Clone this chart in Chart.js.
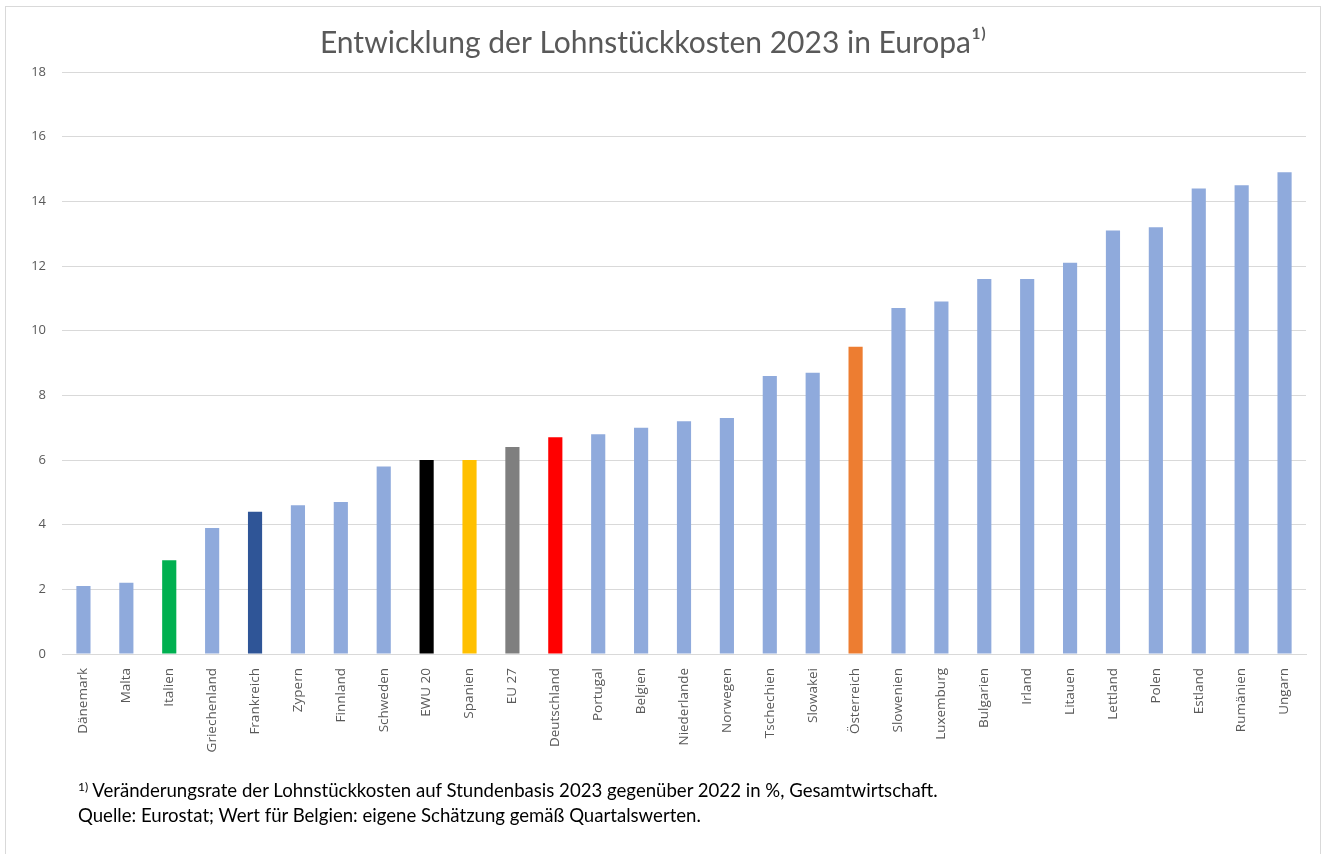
<!DOCTYPE html>
<html lang="de">
<head>
<meta charset="utf-8">
<title>Lohnstückkosten 2023</title>
<script src="https://cdn.jsdelivr.net/npm/chart.js@4"></script>
<style>
    html, body { margin: 0; padding: 0; background: #ffffff; }
    #frame {
        position: absolute; left: 5px; top: 6px; width: 1316px; height: 860px;
        border: 1px solid #d9d9d9; box-sizing: border-box;
    }
    #wrap { position: absolute; left: 0; top: 0; width: 1326px; height: 854px; }
    #note {
        position: absolute; left: 78px; top: 778px;
        font-family: Lato, "Open Sans", sans-serif; font-size: 18.6px; line-height: 25px; color: #000;
    }
    #note sup { font-size: 12px; vertical-align: 6px; line-height: 0; }
</style>
</head>
<body>
<div id="frame"></div>
<div id="wrap"><canvas id="chart"></canvas></div>
<div id="note">
    <div><sup>1)</sup> Veränderungsrate der Lohnstückkosten auf Stundenbasis 2023 gegenüber 2022 in %, Gesamtwirtschaft.</div>
    <div>Quelle: Eurostat; Wert für Belgien: eigene Schätzung gemäß Quartalswerten.</div>
</div>
<script>
// Daten
const countries = ['Dänemark', 'Malta', 'Italien', 'Griechenland', 'Frankreich', 'Zypern', 'Finnland',
    'Schweden', 'EWU 20', 'Spanien', 'EU 27', 'Deutschland', 'Portugal', 'Belgien', 'Niederlande',
    'Norwegen', 'Tschechien', 'Slowakei', 'Österreich', 'Slowenien', 'Luxemburg', 'Bulgarien',
    'Irland', 'Litauen', 'Lettland', 'Polen', 'Estland', 'Rumänien', 'Ungarn'];
const changeRates = [2.1, 2.2, 2.9, 3.9, 4.4, 4.6, 4.7, 5.8, 6.0, 6.0, 6.4, 6.7, 6.8, 7.0, 7.2,
    7.3, 8.6, 8.7, 9.5, 10.7, 10.9, 11.6, 11.6, 12.1, 13.1, 13.2, 14.4, 14.5, 14.9];
const yTicks = [0, 2, 4, 6, 8, 10, 12, 14, 16, 18];

// Farben
const baseColor = '#8faadc';
const highlight = {
    'Italien': '#00b050',
    'Frankreich': '#2f5597',
    'EWU 20': '#000000',
    'Spanien': '#ffc000',
    'EU 27': '#7f7f7f',
    'Deutschland': '#ff0000',
    'Österreich': '#ed7d31'
};
const barColors = countries.map(c => highlight[c] || baseColor);

Chart.defaults.font.family = '"Open Sans", sans-serif';
Chart.defaults.color = '#595959';

new Chart(document.getElementById('chart'), {
    type: 'bar',
    data: {
        labels: countries,
        datasets: [{
            data: changeRates,
            backgroundColor: barColors,
            borderWidth: 0,
            categoryPercentage: 1,
            barPercentage: 0.33
        }]
    },
    options: {
        responsive: true,
        maintainAspectRatio: false,
        animation: false,
        layout: { padding: { top: 25, right: 20, left: 0, bottom: 0 } },
        plugins: {
            legend: { display: false },
            tooltip: { enabled: false },
            title: {
                display: true,
                text: 'Entwicklung der Lohnstückkosten 2023 in Europa¹⁾',
                color: '#595959',
                font: { family: 'Lato, "Open Sans", sans-serif', size: 30, weight: 'normal' },
                padding: { top: 0, bottom: 11 }
            }
        },
        scales: {
            x: {
                grid: { display: false },
                border: { color: '#d9d9d9' },
                ticks: {
                    autoSkip: false, maxRotation: 90, minRotation: 90,
                    font: { size: 13.5 }, color: '#595959', padding: 6
                },
                afterFit: scale => { scale.height = 200; }
            },
            y: {
                min: 0, max: 18,
                afterBuildTicks: scale => { scale.ticks = yTicks.map(v => ({ value: v })); },
                grid: { color: '#d9d9d9', drawTicks: false },
                border: { display: false },
                ticks: { font: { size: 13 }, color: '#595959', padding: 16 },
                afterFit: scale => { scale.width = 62; }
            }
        }
    }
});
</script>
</body>
</html>
